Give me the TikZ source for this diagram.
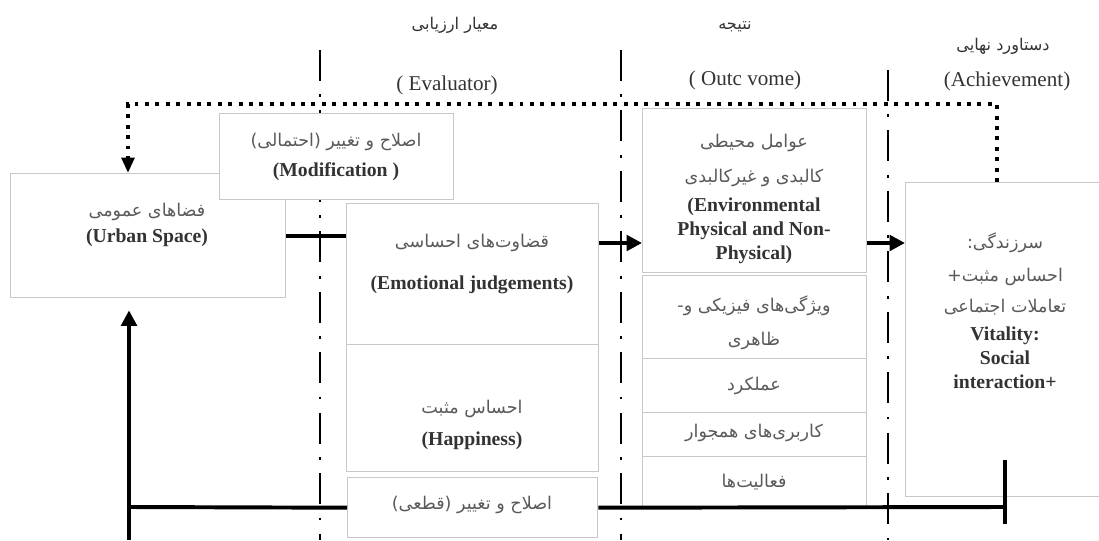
\documentclass[tikz,border=0pt]{standalone}
\usepackage{fontspec}
\setmainfont{Liberation Serif}
\newfontfamily\fafont[Script=Arabic]{DejaVu Sans}
\TeXXeTstate=1
\usetikzlibrary{calc, positioning, arrows.meta}
\definecolor{boxgray}{HTML}{C8C8C8}
\definecolor{fagray}{HTML}{5A5A5A}
\definecolor{engray}{HTML}{333333}
\newdimen\pxu \pxu=0.025cm
\newcommand{\fatxt}[1]{\beginR #1\endR}

\begin{document}
\begin{tikzpicture}[x=0.025cm, y=-0.025cm,
  box/.style={draw=boxgray, line width=1pt, fill=white, anchor=north west, inner sep=0pt},
  fa/.style={text=fagray, font=\fafont\fontsize{12.5}{15}\selectfont},
  hdfa/.style={text=engray, font=\fafont\fontsize{11.5}{14}\selectfont},
  en/.style={text=engray, font=\bfseries\fontsize{14}{17}\selectfont, align=center},
  hd/.style={text=engray, font=\fontsize{15}{18}\selectfont},
  phase/.style={line width=2.1pt, dash pattern=on 22pt off 9.5pt on 2pt off 9.5pt},
  heavy/.style={line width=2.8pt},
  flow/.style={heavy, -{Triangle[length=11pt, width=11pt]}},
  back/.style={line width=2.8pt, dash pattern=on 2.8pt off 4.6pt, -{Triangle[length=11pt, width=9pt]}}]
\useasboundingbox (0,0) rectangle (1099,540);

% phase separators
\foreach \lx/\ly in {320/50, 621/50, 888/70}
  \draw[phase] (\lx,\ly) -- (\lx,540);

% headers
\node[hdfa] (evalfa) at (455,25) {\fatxt{معیار ارزیابی}};
\node[hd] (evalen) at (447,85) {( Evaluator)};
\node[hdfa] (outfa) at (735,27) {\fatxt{نتیجه}};
\node[hd] (outen) at (745,80) {( Outc vome)};
\node[hdfa] (achfa) at (1003,46) {\fatxt{دستاورد نهایی}};
\node[hd] (achen) at (1007,81) {(Achievement)};

% boxes
\node[box, minimum width=275*\pxu, minimum height=124*\pxu] (urban) at (10,173) {};
\node[box, minimum width=234*\pxu, minimum height=86*\pxu] (modif) at (219,113) {};
\node[box, minimum width=252*\pxu, minimum height=141*\pxu] (emot) at (346,203) {};
\node[box, minimum width=252*\pxu, minimum height=127*\pxu] (happy) at (346,344) {};
\node[box, minimum width=250*\pxu, minimum height=60*\pxu] (qatei) at (347,477) {};
\node[box, minimum width=224*\pxu, minimum height=164*\pxu] (env) at (642,108) {};
\node[box, minimum width=224*\pxu, minimum height=83*\pxu] (phys) at (642,275) {};
\node[box, minimum width=224*\pxu, minimum height=54*\pxu] (func) at (642,358) {};
\node[box, minimum width=224*\pxu, minimum height=44*\pxu] (adj) at (642,412) {};
\node[box, minimum width=224*\pxu, minimum height=52*\pxu] (act) at (642,456) {};
\node[box, minimum width=220*\pxu, minimum height=314*\pxu] (vital) at (905,182) {};

% box texts
\node[fa] (urbanfa) at (147,212) {\fatxt{فضاهای عمومی}};
\node[en] (urbanen) at (147,238) {(Urban Space)};
\node[fa] (modiffa) at (336,142) {\fatxt{اصلاح و تغییر (احتمالی)}};
\node[en] (modifen) at (336,172) {(Modification )};
\node[fa] (emotfa) at (472,243) {\fatxt{قضاوت‌های احساسی}};
\node[en] (emoten) at (472,285) {(Emotional judgements)};
\node[fa] (happyfa) at (472,409) {\fatxt{احساس مثبت}};
\node[en] (happyen) at (472,441) {(Happiness)};
\node[fa] (qateifa) at (472,505) {\fatxt{اصلاح و تغییر (قطعی)}};
\node[fa] (envfa1) at (754,143) {\fatxt{عوامل محیطی}};
\node[fa] (envfa2) at (754,178) {\fatxt{کالبدی و غیرکالبدی}};
\node[en] (enven) at (754,231) {(Environmental\\Physical and Non-\\Physical)};
\node[fa] (physfa1) at (754,306) {\fatxt{ویژگی‌های فیزیکی و-}};
\node[fa] (physfa2) at (754,341) {\fatxt{ظاهری}};
\node[fa] (funcfa) at (754,386) {\fatxt{عملکرد}};
\node[fa] (adjfa) at (754,433) {\fatxt{کاربری‌های همجوار}};
\node[fa] (actfa) at (754,482) {\fatxt{فعالیت‌ها}};
\node[fa] (vitalfa1) at (1005,243) {\fatxt{سرزندگی:}};
\node[fa] (vitalfa2) at (1005,277) {\fatxt{احساس مثبت+}};
\node[fa] (vitalfa3) at (1005,307) {\fatxt{تعاملات اجتماعی}};
\node[en] (vitalen) at (1005,358) {Vitality:\\Social\\interaction+};

% main flow
\draw[heavy] (urban.east) -- (urban.east -| emot.west);
\draw[flow] ($(emot.north east)+(0,40)$) coordinate (a1) -- (a1 -| env.west);
\draw[flow] ($(env.north east)+(0,135)$) coordinate (a2) -- (a2 -| vital.west);

% probable modification (dotted)
\coordinate (dr) at (997,104);
\coordinate (dl) at (128,104);
\draw[back] (dr |- vital.north) -- (dr) -- (dl) -- (dl |- urban.north);

% definite modification
\coordinate (fbl) at (129,507);
\coordinate (fbr) at (1005,507);
\draw[heavy] (fbr) -- (qatei.east);
\draw[heavy] (qatei.west) -- (fbl);
\draw[flow, shorten >=8.5pt] (fbl |- 0,540) -- (fbl |- urban.south);
\draw[heavy] ($(fbr)+(0,-47)$) -- ($(fbr)+(0,17)$);
\end{tikzpicture}
\end{document}
